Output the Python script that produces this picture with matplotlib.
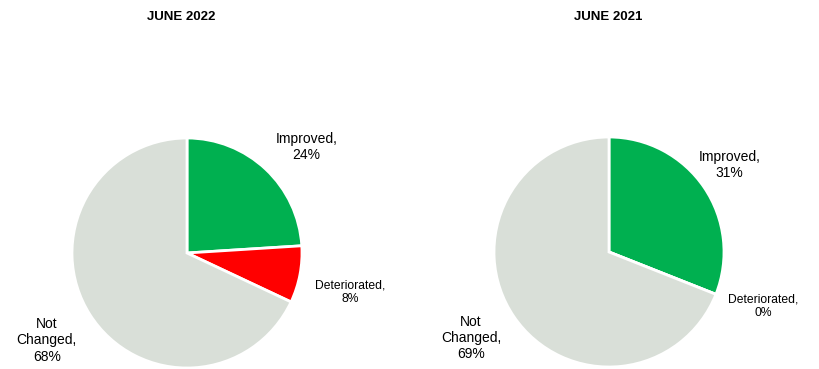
import matplotlib
matplotlib.use('Agg')
import matplotlib.pyplot as plt

plt.rcParams['font.family'] = ['Liberation Sans', 'DejaVu Sans']

# =============================================================================
# DATA
# =============================================================================
categories = ['Improved', 'Deteriorated', 'Not Changed']
titles = ['JUNE 2022', 'JUNE 2021']
values_2022 = [24, 8, 68]
values_2021 = [31, 0, 69]
colors = ['#00B050', '#FF0000', '#D9DFD8']

# label placement (radius units from pie centre), one row per panel
label_pos = [
    [(1.04, 0.92), (1.42, -0.34), (-1.22, -0.76)],
    [(1.05, 0.76), (1.34, -0.47), (-1.20, -0.75)],
]
label_text = [
    ['Improved,\n24%', 'Deteriorated,\n8%', 'Not\nChanged,\n68%'],
    ['Improved,\n31%', 'Deteriorated,\n0%', 'Not\nChanged,\n69%'],
]
label_size = [10, 8.7, 10]

W, H = 819, 369
fig = plt.figure(figsize=(W / 100, H / 100), dpi=100)

# pie centres in pixels (x from left, y from top), radius in pixels
centres = [(187, 253), (609, 252)]
r = 115
title_x = [181, 608]

for i, vals in enumerate([values_2022, values_2021]):
    cx, cy = centres[i]
    ax = fig.add_axes([(cx - r) / W, (H - cy - r) / H, 2 * r / W, 2 * r / H])
    ax.pie(vals, colors=colors, startangle=90, counterclock=False,
           radius=1, wedgeprops=dict(edgecolor='white', linewidth=2))
    ax.set_xlim(-1, 1)
    ax.set_ylim(-1, 1)
    ax.set_aspect('equal')
    ax.axis('off')
    for j in range(len(categories)):
        x, y = label_pos[i][j]
        ax.text(x, y, label_text[i][j], ha='center', va='center',
                fontsize=label_size[j], linespacing=1.2, clip_on=False)
    fig.text(title_x[i] / W, 1 - 17 / H, titles[i], ha='center', va='center',
             fontsize=9.5, fontweight='bold')

fig.savefig('out.png', dpi=100, facecolor='white')
